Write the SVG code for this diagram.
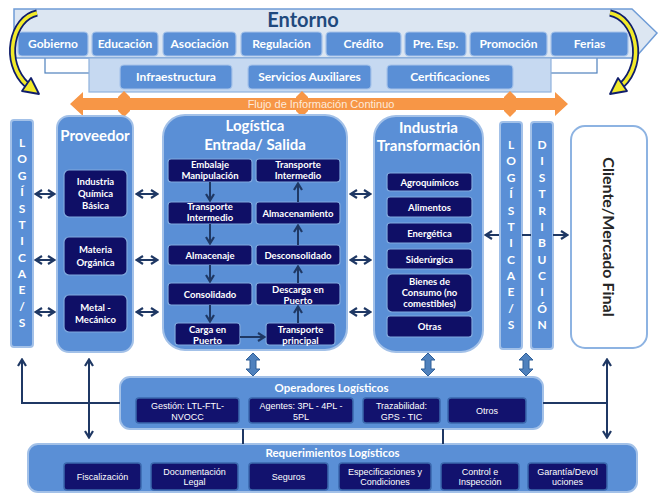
<svg xmlns="http://www.w3.org/2000/svg" width="668" height="500" viewBox="0 0 668 500">
<defs>
<style>
.tab{fill:#5a8fd6;stroke:#a7c4ea;stroke-width:1.2}
.tabt{font-family:Lato,"Liberation Sans",sans-serif;font-weight:bold;font-size:12px;fill:#ffffff;text-anchor:middle}
.panel{fill:#5a8fd6;stroke:#a3c1e8;stroke-width:2}
.inner{fill:#0f0f66;stroke:#80a9dd;stroke-width:1.2}
.inner2{fill:#12126e;stroke:#3b68ad;stroke-width:1.5}
.it{font-family:Lato,"Liberation Sans",sans-serif;font-weight:bold;font-size:9.5px;fill:#ffffff;text-anchor:middle}
.at{font-family:"Liberation Sans",Arial,sans-serif;font-size:9px;fill:#ffffff;text-anchor:middle}
.title{font-family:Lato,"Liberation Sans",sans-serif;font-weight:bold;font-size:15px;fill:#ffffff;text-anchor:middle}
.sub{font-family:Lato,"Liberation Sans",sans-serif;font-weight:bold;font-size:11.5px;fill:#ffffff;text-anchor:middle}
.vl{font-family:Lato,"Liberation Sans",sans-serif;font-weight:bold;font-size:12px;fill:#ffffff;text-anchor:middle}
.conn{stroke:#1f3864;stroke-width:2;fill:none}
.blk{fill:#4f81bd;stroke:#2f5f98;stroke-width:1}
.org{fill:#f79646}
</style>
<marker id="ah" viewBox="0 0 9 10" refX="8" refY="5" markerUnits="userSpaceOnUse" markerWidth="9" markerHeight="10" orient="auto-start-reverse">
<path d="M1,1 L7.5,5 L1,9" fill="none" stroke="#1f3864" stroke-width="2.2"/>
</marker>
</defs>

<rect x="0" y="0" width="668" height="500" fill="#ffffff"/>

<!-- Entorno -->
<g id="entorno">
<rect x="45" y="45" width="552" height="28" fill="#ffffff" stroke="#4f81bd" stroke-width="1.2"/>
<path d="M14,9 L632,9 L657,33 L635,58 L14,58 Z" fill="#dce6f2" stroke="#6f9cd6" stroke-width="1.5"/>
<text x="303" y="27" font-family="Lato,'Liberation Sans',sans-serif" font-weight="bold" font-size="20px" fill="#1f497d" text-anchor="middle">Entorno</text>
<g id="tab-gobierno"><rect class="tab" x="18" y="32" width="70" height="24" rx="4"/><text class="tabt" x="53" y="48">Gobierno</text></g>
<g id="tab-educacion"><rect class="tab" x="92" y="32" width="66" height="24" rx="4"/><text class="tabt" x="125" y="48">Educación</text></g>
<g id="tab-asociacion"><rect class="tab" x="163" y="32" width="73" height="24" rx="4"/><text class="tabt" x="199.5" y="48">Asociación</text></g>
<g id="tab-regulacion"><rect class="tab" x="241" y="32" width="81" height="24" rx="4"/><text class="tabt" x="281.5" y="48">Regulación</text></g>
<g id="tab-credito"><rect class="tab" x="326" y="32" width="75" height="24" rx="4"/><text class="tabt" x="363.5" y="48">Crédito</text></g>
<g id="tab-preesp"><rect class="tab" x="405" y="32" width="61" height="24" rx="4"/><text class="tabt" x="435.5" y="48">Pre. Esp.</text></g>
<g id="tab-promocion"><rect class="tab" x="470" y="32" width="77" height="24" rx="4"/><text class="tabt" x="508.5" y="48">Promoción</text></g>
<g id="tab-ferias"><rect class="tab" x="551" y="32" width="77" height="24" rx="4"/><text class="tabt" x="589.5" y="48">Ferias</text></g>
</g>

<g id="servicios">
<rect x="89" y="58" width="462" height="34" fill="#c6d9f1" stroke="#8fb1dd" stroke-width="1.2"/>
<g id="tab-infra"><rect class="tab" x="120" y="65" width="112" height="24" rx="4"/><text class="tabt" x="176" y="81">Infraestructura</text></g>
<g id="tab-servaux"><rect class="tab" x="248" y="65" width="123" height="24" rx="4"/><text class="tabt" x="309.5" y="81">Servicios Auxiliares</text></g>
<g id="tab-cert"><rect class="tab" x="387" y="65" width="126" height="24" rx="4"/><text class="tabt" x="450" y="81">Certificaciones</text></g>
</g>

<!-- yellow curved arrows -->
<g id="curvas">
<path d="M37,13 C12,18 2,62 27,85" fill="none" stroke="#0f1d6b" stroke-width="7"/>
<path d="M37,13 C12,18 2,62 27,85" fill="none" stroke="#f2ea2a" stroke-width="3.5"/>
<polygon points="39,94 22,91 31,78" fill="#f2ea2a" stroke="#0f1d6b" stroke-width="1.8" stroke-linejoin="round"/>
<path d="M610,13 C636,18 646,62 622,85" fill="none" stroke="#0f1d6b" stroke-width="7"/>
<path d="M610,13 C636,18 646,62 622,85" fill="none" stroke="#f2ea2a" stroke-width="3.5"/>
<polygon points="610,94 627,91 618,78" fill="#f2ea2a" stroke="#0f1d6b" stroke-width="1.8" stroke-linejoin="round"/>
</g>

<!-- Flujo de información -->
<g id="flujo">
<polygon class="org" points="124,91 130,97 130,111 124,117 118,111 118,97"/>
<polygon class="org" points="302,91 308,97 308,111 302,117 296,111 296,97"/>
<polygon class="org" points="510,91 516,97 516,111 510,117 504,111 504,97"/>
<polygon class="org" points="70,104 83,92 83,98 555,98 555,92 568,104 555,116 555,110 83,110 83,116"/>
<text x="321" y="108" font-family="'Liberation Sans',Arial,sans-serif" font-size="11px" fill="#fdeadb" text-anchor="middle">Flujo de Información  Continuo</text>
</g>

<!-- Left Logisticas bar -->
<g id="log-izq">
<rect class="panel" x="11" y="120" width="22" height="227" rx="3" stroke-width="1.5"/>
<text class="vl" x="22" y="147">L</text>
<text class="vl" x="22" y="163.4">O</text>
<text class="vl" x="22" y="179.7">G</text>
<text class="vl" x="22" y="196.1">Í</text>
<text class="vl" x="22" y="212.5">S</text>
<text class="vl" x="22" y="228.8">T</text>
<text class="vl" x="22" y="245.2">I</text>
<text class="vl" x="22" y="261.5">C</text>
<text class="vl" x="22" y="277.9">A</text>
<text class="vl" x="22" y="294.3">E</text>
<text class="vl" x="22" y="310.6">/</text>
<text class="vl" x="22" y="327">S</text>
</g>

<!-- Proveedor -->
<g id="proveedor">
<rect class="panel" x="57" y="116" width="76" height="236" rx="12"/>
<text class="title" x="95" y="141">Proveedor</text>
<g id="prov-iqb"><rect class="inner" x="64" y="170" width="63" height="47" rx="5"/>
<text class="it" x="95.5" y="185">Industria</text><text class="it" x="95.5" y="197">Química</text><text class="it" x="95.5" y="209">Básica</text></g>
<g id="prov-mo"><rect class="inner" x="64" y="237" width="63" height="38" rx="5"/>
<text class="it" x="95.5" y="252.5">Materia</text><text class="it" x="95.5" y="265.5">Orgánica</text></g>
<g id="prov-mm"><rect class="inner" x="64" y="295" width="63" height="37" rx="5"/>
<text class="it" x="95.5" y="310.5">Metal -</text><text class="it" x="95.5" y="322.5">Mecánico</text></g>
</g>

<!-- Logistica Entrada/Salida -->
<g id="logistica">
<rect class="panel" x="163" y="115" width="184" height="235" rx="22"/>
<text class="title" x="255" y="131">Logística</text>
<text class="title" x="255" y="149.5">Entrada/ Salida</text>
<g id="l-emb"><rect class="inner" x="168" y="159" width="84" height="23" rx="3"/><text class="it" x="210" y="167.5">Embalaje</text><text class="it" x="210" y="179">Manipulación</text></g>
<g id="l-ti1"><rect class="inner" x="168" y="202" width="84" height="22" rx="3"/><text class="it" x="210" y="210">Transporte</text><text class="it" x="210" y="221">Intermedio</text></g>
<g id="l-alm"><rect class="inner" x="168" y="245" width="84" height="20" rx="3"/><text class="it" x="210" y="258.5">Almacenaje</text></g>
<g id="l-con"><rect class="inner" x="168" y="283" width="84" height="22" rx="3"/><text class="it" x="210" y="297.5">Consolidado</text></g>
<g id="l-carga"><rect class="inner" x="175" y="323" width="65" height="22" rx="3"/><text class="it" x="207.5" y="332.5">Carga en</text><text class="it" x="207.5" y="343.5">Puerto</text></g>
<g id="l-ti2"><rect class="inner" x="256" y="159" width="84" height="23" rx="3"/><text class="it" x="298" y="167.5">Transporte</text><text class="it" x="298" y="179">Intermedio</text></g>
<g id="l-almac"><rect class="inner" x="256" y="202" width="84" height="22" rx="3"/><text class="it" x="298" y="216.5">Almacenamiento</text></g>
<g id="l-descon"><rect class="inner" x="256" y="245" width="84" height="20" rx="3"/><text class="it" x="298" y="258.5">Desconsolidado</text></g>
<g id="l-desc"><rect class="inner" x="256" y="283" width="84" height="22" rx="3"/><text class="it" x="298" y="292.5">Descarga en</text><text class="it" x="298" y="303.5">Puerto</text></g>
<g id="l-tp"><rect class="inner" x="266" y="323" width="69" height="22" rx="3"/><text class="it" x="300.5" y="332.5">Transporte</text><text class="it" x="300.5" y="343.5">principal</text></g>
</g>

<!-- Industria Transformacion -->
<g id="industria">
<rect class="panel" x="374" y="116" width="109" height="236" rx="22"/>
<text class="title" x="428.5" y="133">Industria</text>
<text class="title" x="428.5" y="151">Transformación</text>
<g id="i-agro"><rect class="inner" x="387" y="173" width="85" height="18" rx="3"/><text class="it" x="429.5" y="185.5">Agroquímicos</text></g>
<g id="i-ali"><rect class="inner" x="387" y="197" width="85" height="20" rx="3"/><text class="it" x="429.5" y="210.5">Alimentos</text></g>
<g id="i-ene"><rect class="inner" x="387" y="223" width="85" height="20" rx="3"/><text class="it" x="429.5" y="236.5">Energética</text></g>
<g id="i-sid"><rect class="inner" x="387" y="249" width="85" height="20" rx="3"/><text class="it" x="429.5" y="262.5">Siderúrgica</text></g>
<g id="i-bie"><rect class="inner" x="387" y="274" width="85" height="38" rx="5"/><text class="it" x="429.5" y="284.5">Bienes de</text><text class="it" x="429.5" y="296">Consumo (no</text><text class="it" x="429.5" y="307">comestibles)</text></g>
<g id="i-otr"><rect class="inner" x="387" y="316" width="85" height="21" rx="3"/><text class="it" x="429.5" y="330">Otras</text></g>
</g>

<!-- Right Logisticas bar -->
<g id="log-der">
<rect class="panel" x="500" y="122" width="22" height="227" rx="3" stroke-width="1.5"/>
<text class="vl" x="511" y="149">L</text>
<text class="vl" x="511" y="165.4">O</text>
<text class="vl" x="511" y="181.7">G</text>
<text class="vl" x="511" y="198.1">Í</text>
<text class="vl" x="511" y="214.5">S</text>
<text class="vl" x="511" y="230.8">T</text>
<text class="vl" x="511" y="247.2">I</text>
<text class="vl" x="511" y="263.5">C</text>
<text class="vl" x="511" y="279.9">A</text>
<text class="vl" x="511" y="296.3">E</text>
<text class="vl" x="511" y="312.6">/</text>
<text class="vl" x="511" y="329">S</text>
</g>

<g id="distribucion">
<rect class="panel" x="531" y="122" width="22" height="227" rx="3" stroke-width="1.5"/>
<text class="vl" x="542" y="149">D</text>
<text class="vl" x="542" y="165.4">I</text>
<text class="vl" x="542" y="181.7">S</text>
<text class="vl" x="542" y="198.1">T</text>
<text class="vl" x="542" y="214.5">R</text>
<text class="vl" x="542" y="230.8">I</text>
<text class="vl" x="542" y="247.2">B</text>
<text class="vl" x="542" y="263.5">U</text>
<text class="vl" x="542" y="279.9">C</text>
<text class="vl" x="542" y="296.3">I</text>
<text class="vl" x="542" y="312.6">Ó</text>
<text class="vl" x="542" y="329">N</text>
</g>

<g id="cliente">
<rect x="571" y="126" width="76" height="222" rx="14" fill="#ffffff" stroke="#8db3e2" stroke-width="2"/>
<text x="0" y="0" transform="translate(603,237) rotate(90)" font-family="Lato,'Liberation Sans',sans-serif" font-weight="bold" font-size="16px" fill="#262626" text-anchor="middle">Cliente/Mercado Final</text>
</g>

<!-- Operadores -->
<g id="operadores">
<rect class="panel" x="120" y="377" width="423" height="52" rx="10"/>
<text class="sub" x="331.5" y="392">Operadores Logísticos</text>
<g id="o-gest"><rect class="inner2" x="136" y="398" width="103" height="25" rx="3"/><text class="at" x="187.5" y="409">Gestión: LTL-FTL-</text><text class="at" x="187.5" y="419.5">NVOCC</text></g>
<g id="o-agen"><rect class="inner2" x="249" y="398" width="104" height="25" rx="3"/><text class="at" x="301" y="409">Agentes: 3PL - 4PL -</text><text class="at" x="301" y="419.5">5PL</text></g>
<g id="o-traz"><rect class="inner2" x="363" y="398" width="77" height="25" rx="3"/><text class="at" x="401.5" y="409">Trazabilidad:</text><text class="at" x="401.5" y="419.5">GPS - TIC</text></g>
<g id="o-otros"><rect class="inner2" x="448" y="398" width="78" height="25" rx="3"/><text class="at" x="487" y="414">Otros</text></g>
</g>

<!-- Requerimientos -->
<g id="requerimientos">
<rect class="panel" x="28" y="444" width="609" height="48" rx="10"/>
<text class="sub" x="332.5" y="457">Requerimientos Logísticos</text>
<g id="r-fis"><rect class="inner2" x="64" y="463" width="77" height="27" rx="3"/><text class="at" x="102.5" y="480">Fiscalización</text></g>
<g id="r-doc"><rect class="inner2" x="151" y="463" width="87" height="27" rx="3"/><text class="at" x="194.5" y="474.5">Documentación</text><text class="at" x="194.5" y="485">Legal</text></g>
<g id="r-seg"><rect class="inner2" x="249" y="463" width="79" height="27" rx="3"/><text class="at" x="288.5" y="480">Seguros</text></g>
<g id="r-esp"><rect class="inner2" x="339" y="463" width="92" height="27" rx="3"/><text class="at" x="385" y="474.5">Especificaciones y</text><text class="at" x="385" y="485">Condiciones</text></g>
<g id="r-con"><rect class="inner2" x="441" y="463" width="78" height="27" rx="3"/><text class="at" x="480" y="474.5">Control e</text><text class="at" x="480" y="485">Inspección</text></g>
<g id="r-gar"><rect class="inner2" x="528" y="463" width="79" height="27" rx="3"/><text class="at" x="567.5" y="474.5">Garantía/Devol</text><text class="at" x="567.5" y="485">uciones</text></g>
</g>

<!-- Connectors -->
<g id="connectors">
<line class="conn" x1="35" y1="194" x2="55" y2="194" marker-start="url(#ah)" marker-end="url(#ah)"/>
<line class="conn" x1="35" y1="260" x2="55" y2="260" marker-start="url(#ah)" marker-end="url(#ah)"/>
<line class="conn" x1="35" y1="312" x2="55" y2="312" marker-start="url(#ah)" marker-end="url(#ah)"/>
<line class="conn" x1="136" y1="194" x2="158" y2="194" marker-start="url(#ah)" marker-end="url(#ah)"/>
<line class="conn" x1="136" y1="260" x2="158" y2="260" marker-start="url(#ah)" marker-end="url(#ah)"/>
<line class="conn" x1="136" y1="312" x2="158" y2="312" marker-start="url(#ah)" marker-end="url(#ah)"/>
<line class="conn" x1="350" y1="194" x2="371" y2="194" marker-start="url(#ah)" marker-end="url(#ah)"/>
<line class="conn" x1="350" y1="260" x2="371" y2="260" marker-start="url(#ah)" marker-end="url(#ah)"/>
<line class="conn" x1="350" y1="312" x2="371" y2="312" marker-start="url(#ah)" marker-end="url(#ah)"/>
<!-- logistica inner flow -->
<line class="conn" x1="210" y1="182" x2="210" y2="201" marker-end="url(#ah)"/>
<line class="conn" x1="210" y1="224" x2="210" y2="244" marker-end="url(#ah)"/>
<line class="conn" x1="210" y1="265" x2="210" y2="282" marker-end="url(#ah)"/>
<line class="conn" x1="210" y1="305" x2="210" y2="322" marker-end="url(#ah)"/>
<line class="conn" x1="240" y1="337" x2="265" y2="337" marker-end="url(#ah)"/>
<line class="conn" x1="298" y1="323" x2="298" y2="306" marker-end="url(#ah)"/>
<line class="conn" x1="298" y1="283" x2="298" y2="266" marker-end="url(#ah)"/>
<line class="conn" x1="298" y1="245" x2="298" y2="225" marker-end="url(#ah)"/>
<line class="conn" x1="298" y1="202" x2="298" y2="183" marker-end="url(#ah)"/>
<!-- distribution arrows -->
<line class="conn" x1="499" y1="235" x2="485" y2="235" marker-end="url(#ah)"/>
<line class="conn" x1="522" y1="235" x2="531" y2="235"/>
<line class="conn" x1="553" y1="235" x2="568" y2="235" marker-end="url(#ah)"/>
<!-- block arrows -->
<polygon class="blk" points="253,353 260,360 256,360 256,369 260,369 253,376 246,369 250,369 250,360 246,360"/>
<polygon class="blk" points="428,353 435,360 431,360 431,369 435,369 428,376 421,369 425,369 425,360 421,360"/>
<polygon class="blk" points="526,353 533,360 529,360 529,369 533,369 526,376 519,369 523,369 523,360 519,360"/>
<!-- bottom lines -->
<polyline class="conn" points="120,403 22,403 22,359" marker-end="url(#ah)"/>
<line class="conn" x1="89" y1="359" x2="89" y2="438" marker-start="url(#ah)" marker-end="url(#ah)"/>
<line class="conn" x1="543" y1="403" x2="607" y2="403"/>
<line class="conn" x1="607" y1="359" x2="607" y2="438" marker-start="url(#ah)" marker-end="url(#ah)"/>
<line class="conn" x1="243" y1="429" x2="243" y2="444"/>
<line class="conn" x1="443" y1="429" x2="443" y2="444"/>
</g>
</svg>
